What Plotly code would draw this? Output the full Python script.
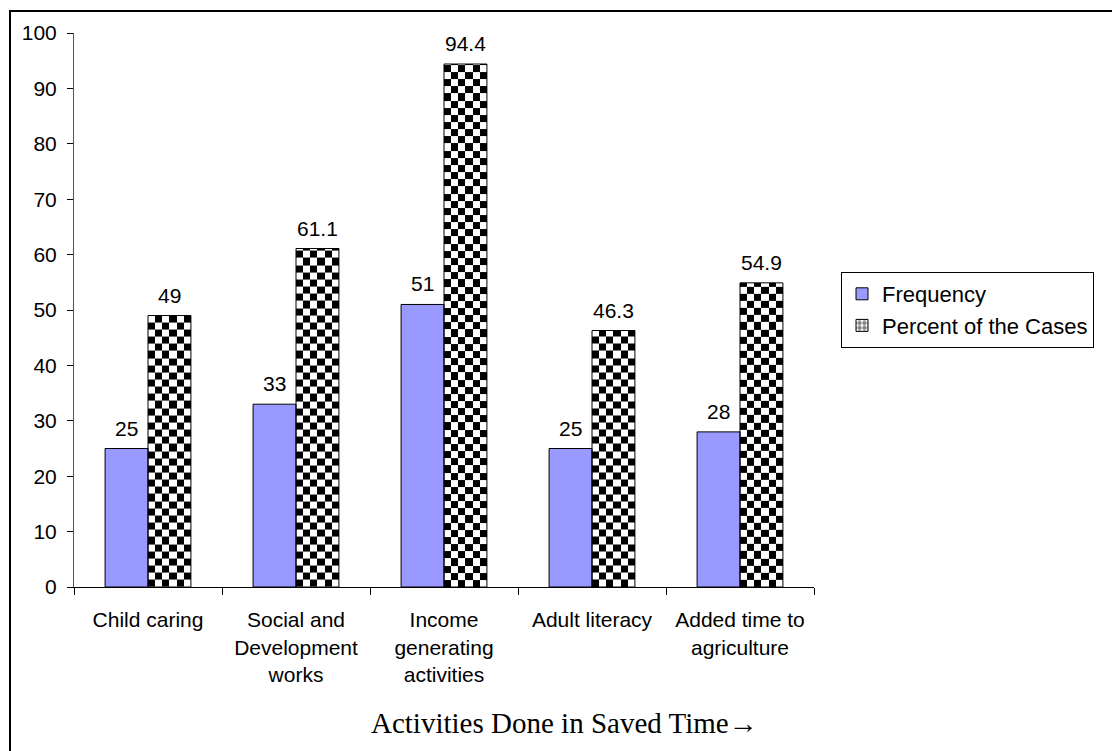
import numpy as np
import plotly.graph_objects as go

# ---- data ----
categories = [
    "Child caring",
    "Social and<br>Development<br>works",
    "Income<br>generating<br>activities",
    "Adult literacy",
    "Added time to<br>agriculture",
]
frequency = [25, 33, 51, 25, 28]
percent_cases = [49, 61.1, 94.4, 46.3, 54.9]
y_ticks = list(range(0, 101, 10))
series_names = ["Frequency", "Percent of the Cases"]
x_title = "Activities Done in Saved Time\u2192"

# ---- geometry ----
W, H = 1112, 751
M_L, M_R, M_T, M_B = 74, 298, 33, 164
PW = W - M_L - M_R
PH = H - M_T - M_B
N = len(categories)
Y_MAX = 100

BAR_W = 0.29          # width of each bar in category units
CHECK_COLS = 6        # checker squares across one bar
cell_w = BAR_W / CHECK_COLS
cell_h = cell_w * (PW / N) / (PH / Y_MAX)   # square cells on screen

FONT = "Arial, Liberation Sans, sans-serif"
SERIF = "Times New Roman, Liberation Serif, serif"


def px_x(px):
    return (px - M_L) / PW


def px_y(py):
    return (M_T + PH - py) / PH


centers = list(range(N))
fig = go.Figure()

# checkerboard fill for the percentage bars
for i, v in zip(centers, percent_cases):
    xe = [i + k * cell_w for k in range(CHECK_COLS + 1)]
    n_rows = int(np.ceil(v / cell_h))
    ye = [min(r * cell_h, v) for r in range(n_rows + 1)]
    z = [[(r + c + 1) % 2 for c in range(CHECK_COLS)] for r in range(n_rows)]
    fig.add_trace(go.Heatmap(
        x=xe, y=ye, z=z, zmin=0, zmax=1,
        colorscale=[[0, "white"], [1, "black"]],
        showscale=False, hoverinfo="skip", zsmooth=False,
    ))

fig.add_trace(go.Bar(
    name=series_names[0], x=centers, y=frequency,
    offset=-BAR_W, width=BAR_W,
    marker=dict(color="#9999FF", line=dict(color="black", width=1)),
))

# outline of the checkered bars
fig.add_trace(go.Bar(
    name=series_names[1], x=centers, y=percent_cases,
    offset=0, width=BAR_W, showlegend=False,
    marker=dict(color="rgba(0,0,0,0)", line=dict(color="black", width=1)),
))

# legend entry for the checkered series
fig.add_trace(go.Bar(
    name=series_names[1], x=[None], y=[None],
    marker=dict(color="white", line=dict(color="black", width=1),
                pattern=dict(shape=".", size=6, solidity=0.6,
                             fgcolor="black", bgcolor="white")),
))

# value labels
LABEL_SIZE = 21
annotations = []
for i, v in zip(centers, frequency):
    annotations.append(dict(x=i - BAR_W / 2, y=v, text=f"{v:g}", showarrow=False,
                            yanchor="bottom", yshift=7,
                            font=dict(family=FONT, size=LABEL_SIZE, color="black")))
for i, v in zip(centers, percent_cases):
    annotations.append(dict(x=i + BAR_W / 2, y=v, text=f"{v:g}", showarrow=False,
                            yanchor="bottom", yshift=7,
                            font=dict(family=FONT, size=LABEL_SIZE, color="black")))

annotations.append(dict(
    x=px_x(564), y=px_y(723), xref="paper", yref="paper",
    text=x_title, showarrow=False, xanchor="center", yanchor="middle",
    font=dict(family=SERIF, size=29, color="black"),
))

fig.update_layout(
    width=W, height=H,
    margin=dict(l=M_L, r=M_R, t=M_T, b=M_B, pad=0),
    paper_bgcolor="white", plot_bgcolor="white",
    barmode="overlay",
    font=dict(family=FONT, size=20, color="black"),
    showlegend=True,
    legend=dict(
        x=px_x(841), y=px_y(272), xanchor="left", yanchor="top",
        bordercolor="black", borderwidth=1, bgcolor="white",
        font=dict(family=FONT, size=22, color="black"),
        itemwidth=30, traceorder="normal",
    ),
    annotations=annotations,
    shapes=[dict(
        type="rect", xref="paper", yref="paper",
        x0=px_x(10), x1=1.6, y0=-0.5, y1=px_y(11),
        line=dict(color="black", width=2), fillcolor="rgba(0,0,0,0)", layer="below",
    )],
)

fig.update_xaxes(
    range=[-0.5, N - 0.5],
    tickmode="array", tickvals=centers, ticktext=categories,
    ticks="", showgrid=False, zeroline=False,
    showline=True, linecolor="black", linewidth=1,
    tickfont=dict(family=FONT, size=21, color="black"),
    ticklabelstandoff=14,
    minor=dict(tickmode="linear", tick0=-0.5, dtick=1, ticks="outside",
               ticklen=7, tickcolor="black", showgrid=False),
)
fig.update_yaxes(
    range=[0, Y_MAX],
    tickmode="array", tickvals=y_ticks,
    ticks="outside", ticklen=6, tickcolor="black",
    showgrid=False, zeroline=False,
    showline=True, linecolor="#555555", linewidth=1,
    tickfont=dict(family=FONT, size=21, color="black"),
    ticklabelstandoff=6,
)

fig.write_html("out.html")
